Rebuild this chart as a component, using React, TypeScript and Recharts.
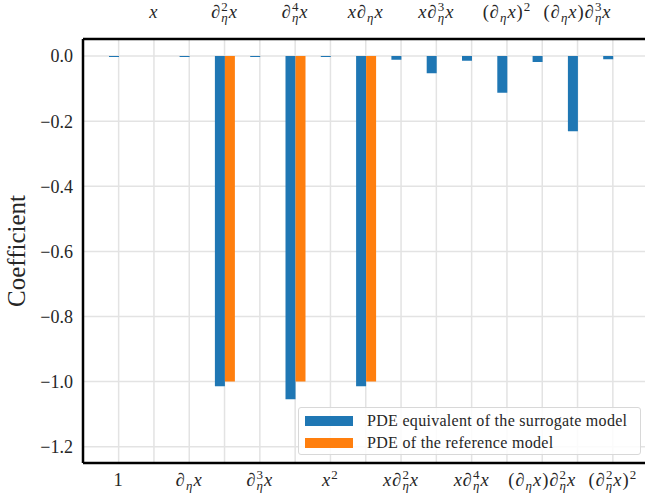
import React from 'react';
import { BarChart, Bar, XAxis, YAxis, CartesianGrid } from 'recharts';

// Category labels (mini-markup: _c = subscript, ^c = superscript)
const categories = [
  '1', 'x', '∂_ηx', '∂_η^2x', '∂_η^3x', '∂_η^4x', 'x^2', 'x∂_ηx',
  'x∂_η^2x', 'x∂_η^3x', 'x∂_η^4x', '(∂_ηx)^2', '(∂_ηx)∂_η^2x', '(∂_ηx)∂_η^3x', '(∂_η^2x)^2',
];
const surrogateValues = [
  -0.003, 0, -0.003, -1.014, -0.003, -1.054, -0.003, -1.014,
  -0.011, -0.053, -0.014, -0.113, -0.018, -0.231, -0.01,
];
const referenceValues = [0, 0, 0, -1.0, 0, -1.0, 0, -1.0, 0, 0, 0, 0, 0, 0, 0];
const yTicks = [0, -0.2, -0.4, -0.6, -0.8, -1.0, -1.2];
const seriesNames = ['PDE equivalent of the surrogate model', 'PDE of the reference model'];
const colors = ['#1f77b4', '#ff7f0e'];

const data = categories.map((c, i) => ({
  name: c,
  surrogate: surrogateValues[i],
  reference: referenceValues[i],
}));

const FONT = '"Liberation Serif", "DejaVu Serif", serif';
const TEXT = '#262626';

type Tok = { base: string; sub?: string; sup?: string };
function parse(label: string): Tok[] {
  const toks: Tok[] = [];
  const chars = Array.from(label);
  let i = 0;
  while (i < chars.length) {
    const c = chars[i];
    if ((c === '_' || c === '^') && toks.length) {
      const t = toks[toks.length - 1];
      if (c === '_') t.sub = chars[i + 1];
      else t.sup = chars[i + 1];
      i += 2;
    } else {
      toks.push({ base: c });
      i += 1;
    }
  }
  return toks;
}

function mathSpans(label: string, fs: number) {
  const toks = parse(label);
  const small = fs * 0.7;
  const supShift = fs * 0.38;
  const subShift = fs * 0.2;
  let offset = 0;
  const out: React.ReactNode[] = [];
  toks.forEach((t, k) => {
    const italic = /[a-zη∂]/.test(t.base);
    out.push(
      <tspan key={k + 'b'} dy={-offset} fontStyle={italic ? 'italic' : 'normal'}>
        {t.base}
      </tspan>
    );
    offset = 0;
    if (t.sup && t.sub) {
      out.push(
        <tspan key={k + 'p'} dy={-supShift} fontSize={small}>{t.sup}</tspan>
      );
      out.push(
        <tspan key={k + 's'} dx={-small * 0.5 - 1} dy={supShift + subShift} fontSize={small} fontStyle="italic">
          {t.sub}
        </tspan>
      );
      offset = subShift;
    } else if (t.sup) {
      out.push(
        <tspan key={k + 'p'} dy={-supShift} fontSize={small}>{t.sup}</tspan>
      );
      offset = -supShift;
    } else if (t.sub) {
      out.push(
        <tspan key={k + 's'} dy={subShift} fontSize={small} fontStyle="italic">{t.sub}</tspan>
      );
      offset = subShift;
    }
  });
  return out;
}

const CatTick = (props: any) => {
  const { x, y, payload, index, side } = props;
  const show = side === 'bottom' ? index % 2 === 0 : index % 2 === 1;
  if (!show) return null;
  const baseline = side === 'bottom' ? y + 21 : y - 19;
  return (
    <text
      x={x}
      y={baseline}
      textAnchor="middle"
      fontFamily={FONT}
      fontSize={18.5}
      letterSpacing={1}
      fill={TEXT}
    >
      {mathSpans(payload.value, 18.5)}
    </text>
  );
};

const fmtY = (v: number) => {
  const s = Math.abs(v).toFixed(1);
  return v < 0 ? '\u2212' + s : s;
};

const LegendBox = () => (
  <div
    style={{
      position: 'absolute',
      left: 298,
      top: 407,
      boxSizing: 'border-box',
      width: 343,
      height: 48,
      border: '1px solid #d8d8d8',
      borderRadius: 3,
      background: 'rgba(255,255,255,0.85)',
      padding: '2px 6px',
      fontFamily: FONT,
      fontSize: 16,
      letterSpacing: 0.3,
      color: TEXT,
    }}
  >
    {seriesNames.map((n, i) => (
      <div key={n} style={{ display: 'flex', alignItems: 'center', height: 22 }}>
        <div style={{ width: 48, height: 10, background: colors[i], marginRight: 14, flex: 'none' }} />
        <span style={{ whiteSpace: 'nowrap' }}>{n}</span>
      </div>
    ))}
  </div>
);

export default function App() {
  return (
    <div style={{ position: 'absolute', left: 0, top: 0, width: 645, height: 493, overflow: 'hidden', background: '#fff' }}>
      <BarChart
        width={660}
        height={493}
        data={data}
        margin={{ top: 0, right: 11.5, bottom: 0, left: 0 }}
        barGap={0}
        barCategoryGap={0}
      >
        <CartesianGrid stroke="#e3e3e3" strokeWidth={1.5} xAxisId="bottom" />
        <XAxis
          dataKey="name"
          xAxisId="bottom"
          orientation="bottom"
          height={30}
          interval={0}
          padding={{ left: 18, right: 18 }}
          axisLine={{ stroke: '#000', strokeWidth: 2.5 }}
          tickLine={false}
          tickSize={0}
          tick={<CatTick side="bottom" />}
        />
        <XAxis
          dataKey="name"
          xAxisId="top"
          orientation="top"
          height={39}
          interval={0}
          padding={{ left: 18, right: 18 }}
          axisLine={{ stroke: '#000', strokeWidth: 2.5 }}
          tickLine={false}
          tickSize={0}
          tick={<CatTick side="top" />}
        />
        <YAxis
          type="number"
          width={83}
          domain={[-1.25, 0.0525]}
          ticks={yTicks}
          allowDataOverflow
          tickFormatter={fmtY}
          axisLine={{ stroke: '#000', strokeWidth: 2.5 }}
          tickLine={false}
          tickSize={0}
          tickMargin={10}
          tick={{ fontFamily: FONT, fontSize: 18, fill: TEXT }}
          label={(p: any) => {
            const vb = p.viewBox;
            const cy = vb.y + vb.height / 2;
            return (
              <text
                x={25}
                y={cy}
                transform={`rotate(-90, 25, ${cy})`}
                textAnchor="middle"
                fontFamily={FONT}
                fontSize={25}
                fill={TEXT}
              >
                Coefficient
              </text>
            );
          }}
        />
        <Bar dataKey="surrogate" xAxisId="bottom" fill={colors[0]} barSize={10} isAnimationActive={false} />
        <Bar dataKey="reference" xAxisId="bottom" fill={colors[1]} barSize={10} isAnimationActive={false} />
      </BarChart>
      <LegendBox />
    </div>
  );
}
